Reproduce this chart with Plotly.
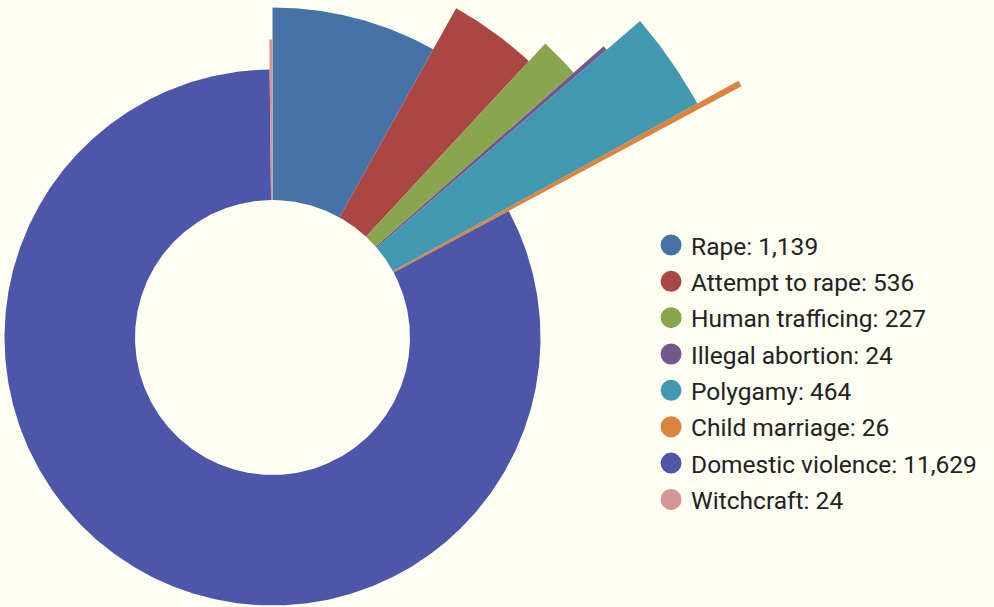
import numpy as np
import plotly.graph_objects as go

# ---- data ----
categories = ["Rape", "Attempt to rape", "Human trafficing", "Illegal abortion",
              "Polygamy", "Child marriage", "Domestic violence", "Witchcraft"]
values = [1139, 536, 227, 24, 464, 26, 11629, 24]

# ---- style ----
colors = ["#4573A5", "#AA4643", "#89A54E", "#72588F", "#4198B0", "#DB843D", "#4D56A9", "#D49593"]
outer_radius = [330, 377, 401, 441, 485, 532, 268, 298]   # variable slice radius (px units)
inner_radius = 137.5
bg = "#FEFEF3"

total = sum(values)
fig = go.Figure()
cum = 0.0
for name, v, col, ro in zip(categories, values, colors, outer_radius):
    a0 = cum / total * 2 * np.pi
    a1 = (cum + v) / total * 2 * np.pi
    cum += v
    n = max(3, int((a1 - a0) / (2 * np.pi) * 720))
    t = np.linspace(a0, a1, n)
    xs = np.concatenate([ro * np.sin(t), inner_radius * np.sin(t[::-1])])
    ys = np.concatenate([ro * np.cos(t), inner_radius * np.cos(t[::-1])])
    fig.add_trace(go.Scatter(x=np.append(xs, xs[0]), y=np.append(ys, ys[0]),
                             mode="lines", fill="toself", fillcolor=col,
                             line=dict(width=0, color=col), hoverinfo="text",
                             text=f"{name}: {v:,}", showlegend=False))

for i, (name, v, col) in enumerate(zip(categories, values, colors)):
    fig.add_trace(go.Scatter(x=[None], y=[None], mode="markers",
                             marker=dict(symbol="circle", size=16, color=col,
                                         line=dict(width=5, color=col)),
                             name=f"{name}: {v:,}", legendgroup=f"g{i}",
                             showlegend=True))

fig.update_layout(
    width=994, height=607,
    margin=dict(l=0, r=0, t=0, b=0),
    paper_bgcolor=bg, plot_bgcolor=bg,
    xaxis=dict(range=[-272.5, 721.5], visible=False, fixedrange=True),
    yaxis=dict(range=[-269.5, 337.5], visible=False, fixedrange=True),
    font=dict(family="Roboto", color="#222222"),
    legend=dict(x=0.655, y=0.6334, xanchor="left", yanchor="top",
                font=dict(size=24.5, family="Roboto", color="#222222"),
                bgcolor="rgba(0,0,0,0)", tracegroupgap=1.5,
                traceorder="grouped", itemsizing="trace"),
    showlegend=True,
)
fig.write_html("out.html", config={"displayModeBar": False},
               post_script="document.body.style.margin='0';document.body.style.background='%s';" % bg)
